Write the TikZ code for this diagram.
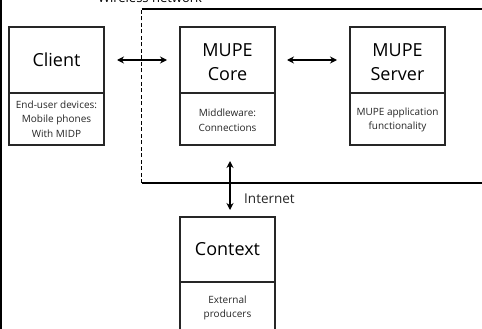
\documentclass[tikz,border=0pt]{standalone}
\usepackage{fontspec}
\setmainfont{Open Sans}
\usetikzlibrary{arrows.meta}
\begin{document}
\begin{tikzpicture}[x=1pt,y=-1pt,
  boxline/.style={draw=black!85,line width=1.2pt},
  title/.style={font=\fontsize{18}{24}\selectfont,align=center,inner sep=0pt},
  sub/.style={font=\fontsize{10}{14.5}\selectfont,align=center,inner sep=0pt,text=black!85},
  conn/.style={line width=1.3pt,{Stealth[length=7pt,width=7pt]}-{Stealth[length=7pt,width=7pt]}}]
\useasboundingbox (0,0) rectangle (482,329);
\begin{scope}
\clip (0,0) rectangle (482,329);
% left border
\draw[line width=1.2pt] (1,-5) -- (1,335);
% wireless network region
\node[anchor=base,font=\fontsize{13}{15}\selectfont,inner sep=0pt] (wn) at (150,3) {Wireless network};
\draw[line width=1.3pt,dash pattern=on 4pt off 2.5pt] (141.5,183) -- (141.5,9);
\draw[line width=1.2pt] (141.5,9) -- (490,9);
\draw[line width=1.2pt] (141.5,183) -- (490,183);
% boxes
\draw[boxline] (9,27) rectangle (104,145); \draw[boxline] (9,93) -- (104,93);
\draw[boxline] (180,27) rectangle (275,145); \draw[boxline] (180,93) -- (275,93);
\draw[boxline] (350,27) rectangle (445,145); \draw[boxline] (350,93) -- (445,93);
\draw[boxline] (180,217) rectangle (275,340); \draw[boxline] (180,282) -- (275,282);
\node[title] (client) at (56.5,60) {Client};
\node[title] (core) at (227.5,62) {MUPE\\Core};
\node[title] (server) at (397.5,62) {MUPE\\Server};
\node[title] (context) at (227.5,249) {Context};
\node[sub] (clientsub) at (56.5,119) {End-user devices:\\Mobile phones\\With MIDP};
\node[sub] (coresub) at (227.5,120) {Middleware:\\Connections};
\node[sub] (serversub) at (397.5,120) {MUPE application\\functionality};
\node[sub] (contextsub) at (227.5,308) {External\\producers};
% connectors
\coordinate (a1) at (117,60); \coordinate (a2) at (167,60);
\coordinate (b1) at (287,60); \coordinate (b2) at (337,60);
\coordinate (c1) at (230,161); \coordinate (c2) at (230,210);
\draw[conn] (a1) -- (a2);
\draw[conn] (b1) -- (b2);
\draw[conn] (c1) -- (c2);
\node[anchor=base west,font=\fontsize{13.5}{15}\selectfont,inner sep=0pt,text=black!85] (inet) at (244,203) {Internet};
\end{scope}
\end{tikzpicture}
\end{document}
